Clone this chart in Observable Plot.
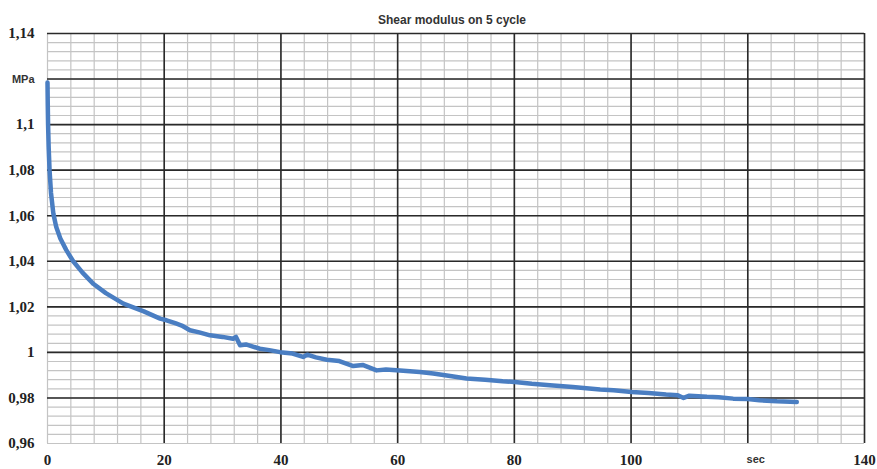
<!DOCTYPE html>
<html>
<head>
<meta charset="utf-8">
<script src="https://cdn.jsdelivr.net/npm/d3@7"></script>
<script src="https://cdn.jsdelivr.net/npm/@observablehq/plot@0.6"></script>
<style>
  html, body { margin: 0; padding: 0; background: #fff; }
</style>
</head>
<body>
<div id="chart"></div>
<script>
const title = "Shear modulus on 5 cycle";
const yUnit = "MPa";
const xUnit = "sec";

// time (s)
const timeSec = [0, 0.05, 0.1, 0.2, 0.35, 0.6, 1.0, 1.5, 2.2, 3.2, 4.4, 6, 7.9, 10, 13, 16.5, 19.3, 20.4, 22, 23, 24.4, 26, 27.85, 30, 31.8, 32.3, 33.0, 34, 36.4, 38, 39.85, 42, 43.8, 44.5, 46, 47.85, 50, 52.4, 54, 56.4, 58, 60.4, 63.8, 66.1, 69, 71.8, 75, 78, 80.1, 83, 86.1, 90, 94.7, 97, 100.1, 103, 106, 108, 109, 110, 113, 115, 117.5, 120, 122, 125, 128.4];
// shear modulus (MPa)
const modulus = [1.1185, 1.108, 1.100, 1.090, 1.080, 1.070, 1.061, 1.055, 1.050, 1.045, 1.040, 1.035, 1.030, 1.026, 1.0214, 1.018, 1.0148, 1.0141, 1.0127, 1.0118, 1.0097, 1.0088, 1.0075, 1.0068, 1.0060, 1.0068, 1.0031, 1.0035, 1.0016, 1.0010, 1.0001, 0.9995, 0.9980, 0.9990, 0.9978, 0.9968, 0.9962, 0.9940, 0.9945, 0.9921, 0.9925, 0.9920, 0.9914, 0.9907, 0.9896, 0.9885, 0.9880, 0.9873, 0.9870, 0.9862, 0.9856, 0.9848, 0.9837, 0.9834, 0.9826, 0.9822, 0.9815, 0.9812, 0.9800, 0.9810, 0.9805, 0.9803, 0.9797, 0.9795, 0.9790, 0.9785, 0.9782];

const xTicks = [0, 20, 40, 60, 80, 100, 120, 140];
const xTickLabels = ["0", "20", "40", "60", "80", "100", xUnit, "140"];
const yTicks = [0.96, 0.98, 1.0, 1.02, 1.04, 1.06, 1.08, 1.1, 1.12, 1.14];
const yTickLabels = ["0,96", "0,98", "1", "1,02", "1,04", "1,06", "1,08", "1,1", yUnit, "1,14"];

const data = timeSec.map((t, i) => ({t, v: modulus[i]}));

const xMinor = d3.range(0, 141, 4);
const yMinor = d3.range(0, 46).map(i => 0.96 + i * 0.004);
const xMajor = xTicks.filter(d => d > 0);
const yMajor = yTicks.filter(d => d > 0.961);

const yNum = yTicks.map((d, i) => ({d, s: yTickLabels[i]})).filter(o => o.s !== yUnit);
const yUnitTick = yTicks.map((d, i) => ({d, s: yTickLabels[i]})).filter(o => o.s === yUnit);
const xNum = xTicks.map((d, i) => ({d, s: xTickLabels[i]})).filter(o => o.s !== xUnit);
const xUnitTick = xTicks.map((d, i) => ({d, s: xTickLabels[i]})).filter(o => o.s === xUnit);

const serif = "Liberation Serif";
const sans = "Liberation Sans";

const chart = Plot.plot({
  width: 877,
  height: 469,
  marginLeft: 47,
  marginRight: 13,
  marginTop: 33,
  marginBottom: 26,
  style: {background: "#fff", overflow: "visible"},
  x: {domain: [0, 140], axis: null},
  y: {domain: [0.96, 1.14], axis: null},
  marks: [
    Plot.gridX(xMinor, {stroke: "#c4c4c4", strokeOpacity: 1, strokeWidth: 1.2}),
    Plot.gridY(yMinor, {stroke: "#c4c4c4", strokeOpacity: 1, strokeWidth: 1.2}),
    Plot.gridX(xMajor, {stroke: "#2a2a2a", strokeOpacity: 1, strokeWidth: 1.6}),
    Plot.gridY(yMajor, {stroke: "#2a2a2a", strokeOpacity: 1, strokeWidth: 1.6}),
    // y tick labels
    Plot.text(yNum, {x: 0, y: "d", text: "s", textAnchor: "end", dx: -13,
      fontFamily: serif, fontWeight: "bold", fontSize: 15, fill: "#222"}),
    Plot.text(yUnitTick, {x: 0, y: "d", text: "s", textAnchor: "end", dx: -13,
      fontFamily: sans, fontWeight: "bold", fontSize: 11, fill: "#333"}),
    // x tick labels
    Plot.text(xNum, {x: "d", y: 0.96, text: "s", dy: 17,
      fontFamily: serif, fontWeight: "bold", fontSize: 15, fill: "#222"}),
    Plot.text(xUnitTick, {x: "d", y: 0.96, text: "s", dy: 16, dx: 8,
      fontFamily: sans, fontWeight: "bold", fontSize: 11, fill: "#333"}),
    Plot.line(data, {x: "t", y: "v", stroke: "#4a7ec2", strokeWidth: 4.5, strokeLinejoin: "round", strokeLinecap: "round"}),
    Plot.text([title], {frameAnchor: "top", dy: -18, dx: -4, fontFamily: sans, fontWeight: "bold", fontSize: 12, fill: "#333"})
  ]
});
document.getElementById("chart").appendChild(chart);
</script>
</body>
</html>
